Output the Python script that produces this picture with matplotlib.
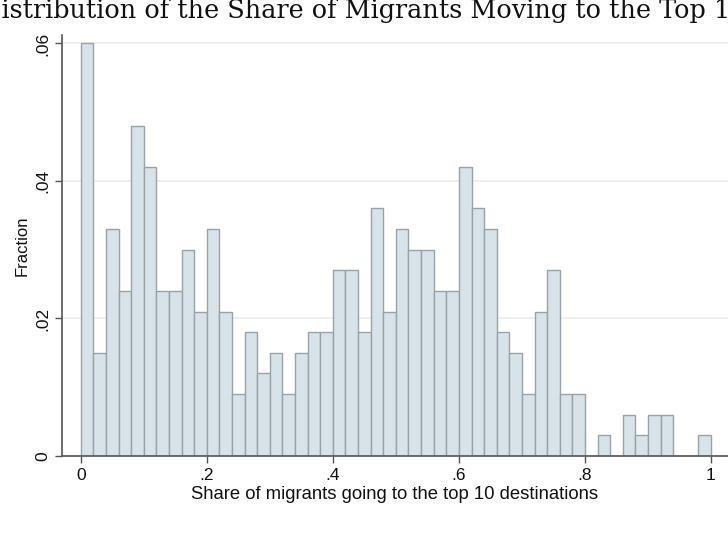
import matplotlib
matplotlib.use("Agg")
import matplotlib.pyplot as plt
from matplotlib.ticker import FuncFormatter

# bin edges (width .02) and fraction of observations in each bin
bin_width = 0.02
bin_starts = [round(i * bin_width, 2) for i in range(50)]
fractions = [
    0.060, 0.015, 0.033, 0.024, 0.048, 0.042, 0.024, 0.024, 0.030, 0.021,
    0.033, 0.021, 0.009, 0.018, 0.012, 0.015, 0.009, 0.015, 0.018, 0.018,
    0.027, 0.027, 0.018, 0.036, 0.021, 0.033, 0.030, 0.030, 0.024, 0.024,
    0.042, 0.036, 0.033, 0.018, 0.015, 0.009, 0.021, 0.027, 0.009, 0.009,
    0.000, 0.003, 0.000, 0.006, 0.003, 0.006, 0.006, 0.000, 0.000, 0.003,
]
x_ticks = [0, 0.2, 0.4, 0.6, 0.8, 1.0]
y_ticks = [0, 0.02, 0.04, 0.06]

title = "Distribution of the Share of Migrants Moving to the Top 10 Destinations"
x_label = "Share of migrants going to the top 10 destinations"
y_label = "Fraction"

plt.rcParams["font.family"] = ["Liberation Sans", "DejaVu Sans"]

fig = plt.figure(figsize=(7.28, 5.5), dpi=100)
ax = fig.add_axes([0.085, 0.171, 0.915, 0.765])

ax.bar(bin_starts, fractions, width=bin_width, align="edge",
       color="#d8e2e9", edgecolor="#98a2a9", linewidth=1.0, zorder=2)

ax.set_xlim(-0.03, 1.027)
ax.set_ylim(0, 0.0612)
ax.set_xticks(x_ticks)
ax.set_yticks(y_ticks)


def strip_zero(v, pos):
    if abs(v) < 1e-9:
        return "0"
    if abs(v - 1) < 1e-9:
        return "1"
    return ("%g" % v).lstrip("0")


ax.xaxis.set_major_formatter(FuncFormatter(strip_zero))
ax.yaxis.set_major_formatter(FuncFormatter(strip_zero))
for lab in ax.get_yticklabels():
    lab.set_rotation(90)
    lab.set_va("center")

ax.tick_params(axis="both", direction="out", length=5, width=1,
               color="#555555", labelsize=12.5, labelcolor="#111111")
ax.yaxis.grid(True, color="#ececec", linewidth=1.2, zorder=0)
ax.set_axisbelow(True)

for side in ["top", "right"]:
    ax.spines[side].set_visible(False)
for side in ["left", "bottom"]:
    ax.spines[side].set_color("#555555")
    ax.spines[side].set_linewidth(1.2)

ax.set_xlabel(x_label, fontsize=13.3, color="#111111", labelpad=2)
ax.set_ylabel(y_label, fontsize=12, color="#111111", labelpad=4)

# title is partly outside the canvas, as in the original crop
fig.text(-0.026, 0.968, title, family=["DejaVu Serif"], fontsize=18.4,
         ha="left", va="baseline", color="#111111")

fig.savefig("out.png", dpi=100)
